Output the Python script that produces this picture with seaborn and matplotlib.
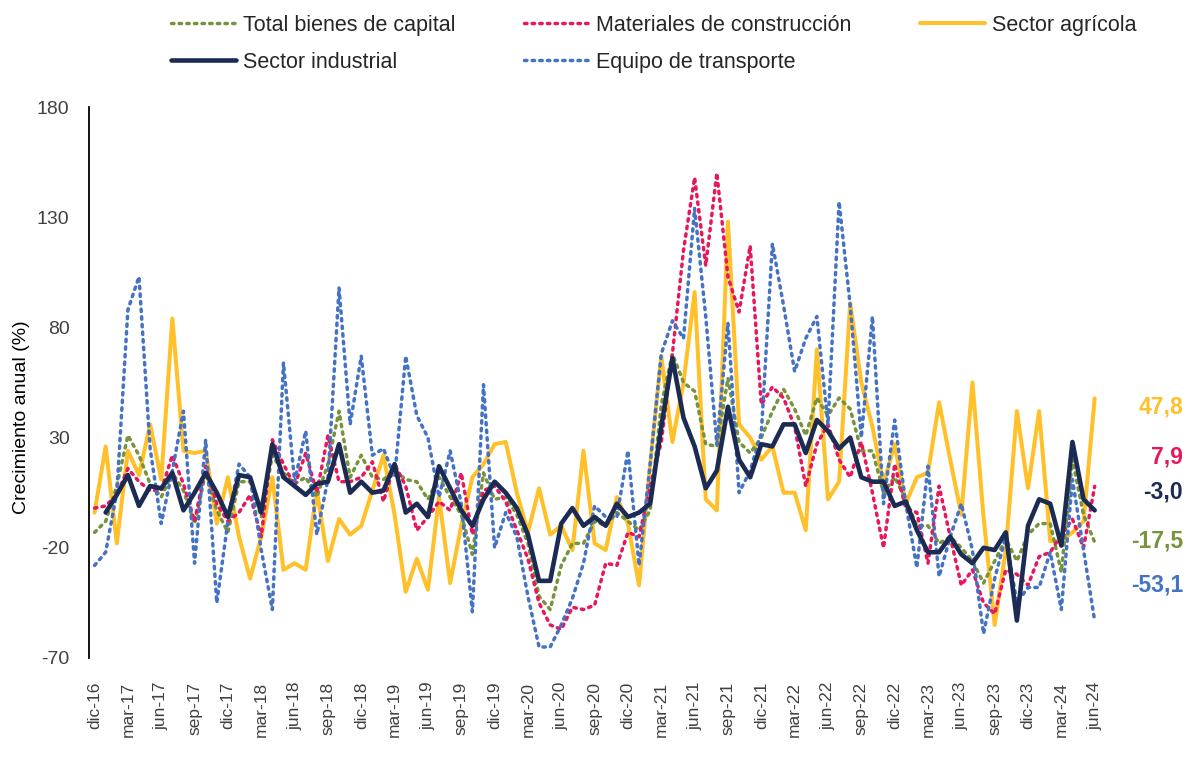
import pandas as pd
import numpy as np
import matplotlib
matplotlib.use("Agg")
import matplotlib.pyplot as plt
import seaborn as sns

# Monthly series, dic-16 .. jun-24 (91 months), annual growth in %
months = pd.date_range("2016-12-01", "2024-06-01", freq="MS")
tick_labels = ["dic-16", "mar-17", "jun-17", "sep-17", "dic-17", "mar-18", "jun-18",
               "sep-18", "dic-18", "mar-19", "jun-19", "sep-19", "dic-19", "mar-20",
               "jun-20", "sep-20", "dic-20", "mar-21", "jun-21", "sep-21", "dic-21",
               "mar-22", "jun-22", "sep-22", "dic-22", "mar-23", "jun-23", "sep-23",
               "dic-23", "mar-24", "jun-24"]

total_bienes = [-13, -8, 8, 31, 22, 9, 3, 14, 6, -9, 14, -3, -13, 10, 10, -6, 22, 14, 9, 12,
                3, 18, 42, 12, 22, 12, 11, 15, 11, 10, 2, 12, 3, -5, -23, 14, 2, 3, -5, -18,
                -42, -48, -28, -18, -18, -8, -10, -4, -8, -12, -3, 45, 68, 55, 51, 27, 26, 57, 28, 23,
                30, 42, 52, 43, 31, 48, 40, 48, 43, 24, 24, 5, 12, 2, -10, -10, -18, -15, -20, -26,
                -36, -26, -16, -26, -14, -9, -9, -31, 20, -5, -17.5]

materiales = [-2, -1, 4, 16, 10, 6, 6, 22, 9, -8, 17, 0, -8, -4, 4, -15, 29, 18, 8, 23,
              5, 31, 10, 10, 12, 19, 1, 18, 8, -12, -6, 1, -3, 14, -14, 6, 8, 1, -12, -25,
              -45, -55, -57, -47, -48, -46, -27, -28, -13, -15, 8, 28, 68, 115, 148, 108, 150, 103, 87, 117,
              45, 53, 48, 35, 8, 27, 36, 20, 12, 28, 5, -20, 18, -2, -4, -27, 8, -15, -37, -30,
              -45, -50, -30, -32, -37, -24, -22, -14, -7, -20, 7.9]

agricola = [-4, 26, -18, 24, 13, 36, 11, 84, 24, 23, 24, -9, 12, -15, -34, -15, 12, -30, -27, -30,
            6, -26, -7, -14, -10, 6, 22, -5, -40, -25, -39, 3, -36, -10, 12, 18, 27, 28, 5, -13,
            7, -14, -10, -21, 24, -18, -21, 3, -9, -37, 18, 67, 28, 55, 96, 2, -3, 128, 36, 30,
            20, 26, 5, 5, -12, 70, 2, 10, 91, 55, 35, 9, 27, 0, 12, 14, 46, 20, -5, 55,
            -6, -55, -21, 42, 7, 42, -17, -17, -13, -8, 47.8]

industrial = [np.nan, -4, 4, 13, -1, 8, 7, 14, -3, 5, 14, 5, -6, 13, 12, -4, 27, 12, 8, 4,
              9, 10, 27, 5, 10, 5, 6, 18, -4, 0, -6, 17, 7, -3, -10, 2, 10, 5, -2, -14,
              -35, -35, -9, -2, -10, -6, -10, 0, -6, -4, 0, 35, 66, 39, 26, 7, 15, 44, 20, 12,
              27, 26, 36, 36, 23, 38, 33, 25, 30, 12, 10, 10, -1, 1, -12, -22, -22, -15, -23, -27,
              -20, -21, -13, -53, -10, 2, 0, -19, 28, 2, -3.0]

transporte = [-28, -22, 5, 88, 103, 25, -9, 15, 42, -27, 29, -45, -8, 18, 12, -21, -48, 64, 10, 33,
              -14, 11, 98, 36, 67, 22, 25, 12, 67, 40, 30, 3, 24, 0, -49, 54, -20, -4, -15, -42,
              -65, -65, -55, -43, -27, -1, -6, -6, 24, -28, 18, 68, 83, 75, 134, 85, 27, 82, 5, 15,
              32, 118, 90, 60, 75, 85, 36, 137, 90, 30, 85, 0, 38, 0, -29, 17, -33, -15, 0, -21,
              -59, -34, -15, -45, -38, -38, -22, -48, 11, -21, -53.1]

df = pd.DataFrame({
    "mes": months,
    "idx": np.arange(len(months)),
    "Total bienes de capital": total_bienes,
    "Materiales de construcción": materiales,
    "Sector agrícola": agricola,
    "Sector industrial": industrial,
    "Equipo de transporte": transporte,
})

sns.set_style("white")
plt.rcParams["font.family"] = ["Liberation Sans", "DejaVu Sans"]
plt.rcParams["axes.unicode_minus"] = False

GREEN = "#77933C"
PINK = "#E8175D"
YELLOW = "#FFC02A"
NAVY = "#1C2B54"
BLUE = "#4472C4"
GREY = "#404040"
dotted = (0, (0.7, 1.5))

fig = plt.figure(figsize=(11.88, 7.62), dpi=100)
ax = fig.add_axes([89 / 1188, 1 - 658 / 762, (1098 - 89) / 1188, (658 - 107) / 762])

# drawing order: industrial on top
styles = [
    ("Sector agrícola", YELLOW, 2.9, "-"),
    ("Total bienes de capital", GREEN, 2.5, dotted),
    ("Materiales de construcción", PINK, 2.5, dotted),
    ("Equipo de transporte", BLUE, 2.5, dotted),
    ("Sector industrial", NAVY, 3.3, "-"),
]
handles = {}
for name, color, lw, ls in styles:
    sns.lineplot(data=df, x="idx", y=name, ax=ax, color=color, linewidth=lw,
                 linestyle=ls, label=name, legend=False,
                 solid_joinstyle="round", solid_capstyle="round",
                 dash_capstyle="round", dash_joinstyle="round")
    handles[name] = ax.lines[-1]

ax.set_xlim(-0.5, 90.3)
ax.set_ylim(-70, 180)
ax.set_yticks(range(-70, 181, 50))
ax.set_xticks(range(0, 91, 3))
ax.set_xticklabels(tick_labels, rotation=90)
ax.tick_params(axis="x", length=0, pad=17, labelsize=12.5, labelcolor=GREY)
ax.tick_params(axis="y", length=0, pad=14, labelsize=14, labelcolor=GREY)
ax.set_xlabel("")
ax.set_ylabel("Crecimiento anual (%)", fontsize=14, color="black")
ax.yaxis.set_label_coords(-0.058, 0.437)

for s in ["top", "right", "bottom"]:
    ax.spines[s].set_visible(False)
ax.spines["left"].set_color("black")
ax.spines["left"].set_linewidth(1.3)

# legend: column-major fill gives the reference layout
order = ["Total bienes de capital", "Sector industrial", "Materiales de construcción",
         "Equipo de transporte", "Sector agrícola"]
fig.legend([handles[k] for k in order], order, loc="upper left",
           bbox_to_anchor=(152 / 1188, 1.006), ncol=3, frameon=False, fontsize=15.5,
           handlelength=3.0, handletextpad=0.33, columnspacing=3.2, labelspacing=0.75)

# last values at the right
end_labels = [("47,8", YELLOW, 407), ("7,9", PINK, 457), ("-3,0", NAVY, 492),
              ("-17,5", GREEN, 541), ("-53,1", BLUE, 585)]
for txt, color, ypix in end_labels:
    fig.text(1183 / 1188, 1 - ypix / 762, txt, ha="right", va="center",
             fontsize=16.5, fontweight="bold", color=color)

plt.savefig("out.png", dpi=100)
plt.close()
